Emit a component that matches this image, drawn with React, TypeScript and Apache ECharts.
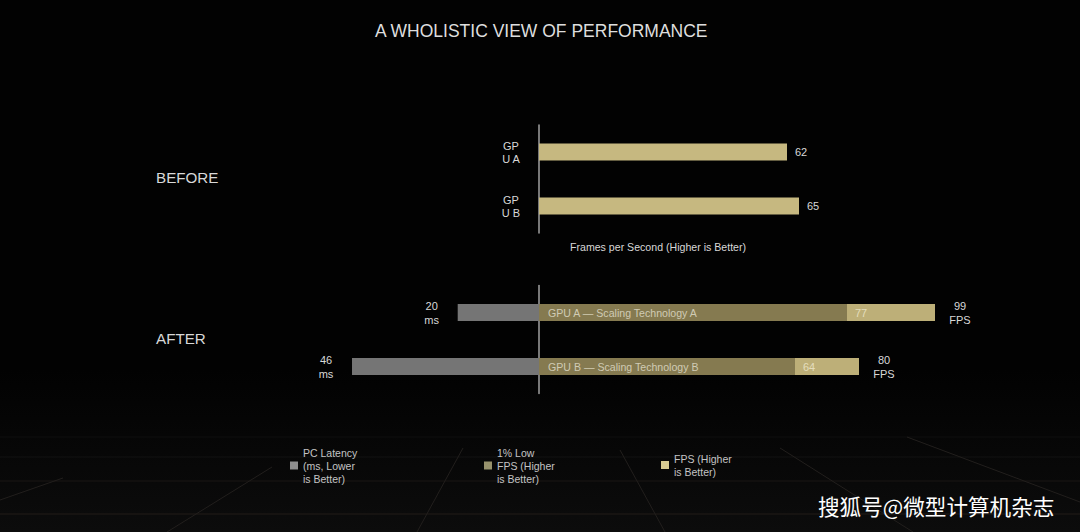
import { useEffect, useRef } from 'react';
import * as echarts from 'echarts';

const beforeCategories = ['GP\nU A', 'GP\nU B'];
const beforeFps = [62, 65];

const afterCategories = ['GPU A — Scaling Technology A', 'GPU B — Scaling Technology B'];
const afterLatency = [20, 46];
const afterLow = [77, 64];
const afterFps = [99, 80];

const LATENCY_NAME = 'PC Latency\n(ms, Lower\nis Better)';
const LOW_NAME = '1% Low\nFPS (Higher\nis Better)';
const FPS_NAME = 'FPS (Higher\nis Better)';

const FONT = '"Liberation Sans", Arial, sans-serif';
const TEXT = '#d8d8d8';

// floor grid behind the legend, purely decorative
const floorRows = [
  { y: 437, color: '#0e0e0e' },
  { y: 457, color: '#121212' },
  { y: 481, color: '#1a1715' },
  { y: 514, color: '#231d19' },
];
const floorDiagonals = [
  [0, 500, 63, 478],
  [167, 532, 272, 467],
  [417, 532, 463, 448],
  [665, 532, 620, 450],
  [913, 532, 780, 448],
  [1080, 502, 907, 437],
];

function fpsAxes(gridIndex: number, categories: string[], showLabels: boolean) {
  return {
    x: { gridIndex, type: 'value' as const, min: 0, max: 100, show: false },
    y: {
      gridIndex,
      type: 'category' as const,
      data: categories,
      inverse: true,
      axisTick: { show: false },
      axisLine: { lineStyle: { color: '#a0a0a0', width: 1.5 } },
      axisLabel: {
        show: showLabels,
        color: TEXT,
        fontFamily: FONT,
        fontSize: 11,
        lineHeight: 13,
        align: 'center' as const,
        margin: 28,
      },
    },
  };
}

function legendAt(left: number, top: number, name: string, color: string) {
  return {
    left,
    top,
    padding: 0,
    itemWidth: 8,
    itemHeight: 8,
    itemGap: 0,
    icon: 'rect',
    selectedMode: false,
    textStyle: { color: '#c4c4c4', fontFamily: FONT, fontSize: 10.5, lineHeight: 13 },
    data: [{ name, itemStyle: { color } }],
  };
}

export default function App() {
  const chartRef = useRef<HTMLDivElement>(null);

  useEffect(() => {
    if (!chartRef.current) return;
    const chart = echarts.init(chartRef.current, undefined, { renderer: 'svg' });
    const before = fpsAxes(0, beforeCategories, true);
    const after = fpsAxes(1, afterCategories, false);

    chart.setOption({
      animation: false,
      backgroundColor: '#020202',
      title: {
        text: 'A WHOLISTIC VIEW OF PERFORMANCE',
        left: 375,
        top: 22,
        padding: 0,
        textStyle: { color: '#dedede', fontFamily: FONT, fontSize: 17.5, fontWeight: 'normal' },
      },
      grid: [
        { left: 539, width: 400, top: 125, height: 108 },
        { left: 539, width: 400, top: 285.5, height: 108 },
        // latency runs leftwards from the same baseline, on its own slightly wider scale
        { left: 339, width: 200, top: 285.5, height: 108 },
      ],
      xAxis: [
        before.x,
        after.x,
        { gridIndex: 2, type: 'value', min: -49.2, max: 0, show: false },
      ],
      yAxis: [
        before.y,
        after.y,
        { gridIndex: 2, type: 'category', data: afterCategories, inverse: true, show: false },
      ],
      legend: [
        legendAt(290, 446, LATENCY_NAME, '#8f8f8f'),
        legendAt(484, 446, LOW_NAME, '#97926c'),
        legendAt(661, 452, FPS_NAME, '#d6ca92'),
      ],
      graphic: [
        {
          type: 'rect',
          z: -2,
          shape: { x: 0, y: 370, width: 1080, height: 162 },
          style: {
            fill: new echarts.graphic.LinearGradient(0, 0, 0, 1, [
              { offset: 0, color: '#020202' },
              { offset: 1, color: '#0c0c0c' },
            ]),
          },
        },
        ...floorRows.map((r) => ({
          type: 'line',
          z: -1,
          shape: { x1: 0, y1: r.y, x2: 1080, y2: r.y },
          style: { stroke: r.color, lineWidth: 1 },
        })),
        ...floorDiagonals.map((d) => ({
          type: 'line',
          z: -1,
          shape: { x1: d[0], y1: d[1], x2: d[2], y2: d[3] },
          style: { stroke: '#221f1d', lineWidth: 1 },
        })),
        { type: 'text', x: 156, y: 170, style: { text: 'BEFORE', fill: TEXT, font: `15.2px ${FONT}` } },
        { type: 'text', x: 156, y: 331, style: { text: 'AFTER', fill: TEXT, font: `15.2px ${FONT}` } },
        {
          type: 'text',
          x: 570,
          y: 241,
          style: { text: 'Frames per Second (Higher is Better)', fill: TEXT, font: `10.6px ${FONT}` },
        },
        {
          type: 'text',
          x: 818,
          y: 495,
          style: { text: '搜狐号@微型计算机杂志', fill: '#ffffff', font: `21.6px "Noto Sans CJK SC"` },
        },
      ],
      series: [
        {
          name: 'FPS before',
          type: 'bar',
          xAxisIndex: 0,
          yAxisIndex: 0,
          barWidth: 17,
          data: beforeFps,
          itemStyle: { color: '#c6b880' },
          label: {
            show: true,
            position: 'right',
            distance: 8,
            color: TEXT,
            fontFamily: FONT,
            fontSize: 11,
          },
        },
        {
          name: LATENCY_NAME,
          type: 'bar',
          xAxisIndex: 2,
          yAxisIndex: 2,
          barWidth: 17,
          data: afterLatency.map((v) => -v),
          itemStyle: { color: '#757575' },
          label: {
            show: true,
            position: 'left',
            distance: 26,
            align: 'center',
            color: TEXT,
            fontFamily: FONT,
            fontSize: 11,
            lineHeight: 14,
            formatter: (p: { dataIndex: number }) => `${afterLatency[p.dataIndex]}\nms`,
          },
        },
        {
          name: FPS_NAME,
          type: 'bar',
          xAxisIndex: 1,
          yAxisIndex: 1,
          barWidth: 17,
          barGap: '-100%',
          data: afterFps,
          itemStyle: { color: '#bdaf78' },
          label: {
            show: true,
            position: 'right',
            distance: 25,
            align: 'center',
            color: TEXT,
            fontFamily: FONT,
            fontSize: 11,
            lineHeight: 14,
            formatter: (p: { value: number }) => `${p.value}\nFPS`,
          },
        },
        {
          name: LOW_NAME,
          type: 'bar',
          xAxisIndex: 1,
          yAxisIndex: 1,
          barWidth: 17,
          barGap: '-100%',
          data: afterLow,
          itemStyle: { color: '#857a50' },
          label: {
            show: true,
            position: 'insideLeft',
            distance: 9,
            color: '#d0cbb4',
            fontFamily: FONT,
            fontSize: 10.6,
            formatter: (p: { dataIndex: number }) => afterCategories[p.dataIndex],
          },
        },
        {
          // carries the 1% low number just past the end of its bar
          name: '1% low value',
          type: 'scatter',
          xAxisIndex: 1,
          yAxisIndex: 1,
          symbolSize: 0,
          data: afterLow.map((v, i) => [v, i]),
          label: {
            show: true,
            position: 'right',
            distance: 8,
            color: '#efe9cf',
            fontFamily: FONT,
            fontSize: 11,
            formatter: (p: { value: number[] }) => `${p.value[0]}`,
          },
        },
      ],
    });

    return () => chart.dispose();
  }, []);

  return (
    <div
      ref={chartRef}
      style={{ position: 'fixed', left: 0, top: 0, width: 1080, height: 532 }}
    />
  );
}
